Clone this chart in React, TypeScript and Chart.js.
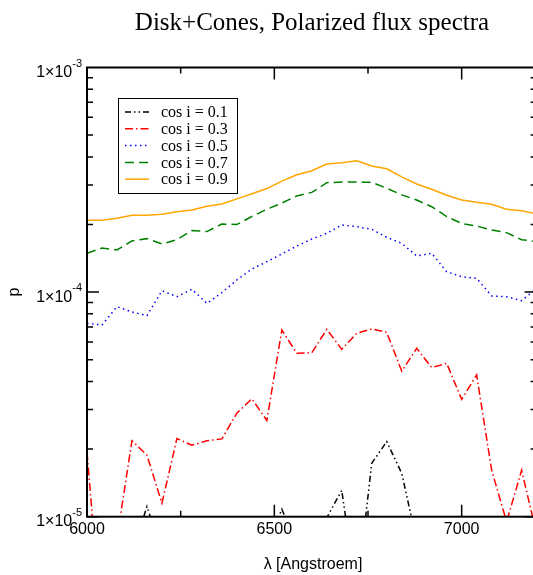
import React, { useEffect, useRef } from "react";
import { Chart, registerables } from "chart.js";

Chart.register(...registerables);

const wavelength = [6000, 6040, 6080, 6120, 6160, 6200, 6240, 6280, 6320, 6360, 6400, 6440, 6480, 6520, 6560, 6600, 6640, 6680, 6720, 6760, 6800, 6840, 6880, 6920, 6960, 7000, 7040, 7080, 7120, 7160, 7200];

const cos01 = [5e-6, 4e-6, 5e-6, 6.8e-6, 1.11e-5, 7e-6, 5e-6, 4e-6, 5e-6, 4e-6, 5e-6, 6e-6, 7.4e-6, 1.08e-5, 7.5e-6, 7e-6, 9.9e-6, 1.31e-5, 4.5e-6, 1.73e-5, 2.16e-5, 1.56e-5, 7.8e-6, 5e-6, 4e-6, 5e-6, 4e-6, 3e-6, 4e-6, 3e-6, 3e-6];
const cos03 = [1.94e-5, 3e-6, 8e-6, 2.18e-5, 1.88e-5, 1.148e-5, 2.23e-5, 2.08e-5, 2.18e-5, 2.22e-5, 2.89e-5, 3.35e-5, 2.68e-5, 6.78e-5, 5.34e-5, 5.37e-5, 6.83e-5, 5.56e-5, 6.56e-5, 6.85e-5, 6.62e-5, 4.45e-5, 5.62e-5, 4.61e-5, 4.82e-5, 3.33e-5, 4.28e-5, 1.61e-5, 9.5e-6, 1.61e-5, 8.4e-6];
const cos05 = [7.26e-5, 7.14e-5, 8.61e-5, 8.16e-5, 7.85e-5, 1.014e-4, 9.54e-5, 1.029e-4, 8.91e-5, 9.94e-5, 1.132e-4, 1.267e-4, 1.366e-4, 1.478e-4, 1.604e-4, 1.723e-4, 1.827e-4, 1.99e-4, 1.955e-4, 1.904e-4, 1.754e-4, 1.649e-4, 1.448e-4, 1.489e-4, 1.232e-4, 1.171e-4, 1.152e-4, 9.61e-5, 9.54e-5, 9.16e-5, 1.039e-4];
const cos07 = [1.49e-4, 1.57e-4, 1.54e-4, 1.69e-4, 1.73e-4, 1.64e-4, 1.71e-4, 1.88e-4, 1.86e-4, 2.01e-4, 2.0e-4, 2.17e-4, 2.34e-4, 2.49e-4, 2.68e-4, 2.78e-4, 3.07e-4, 3.09e-4, 3.09e-4, 3.08e-4, 2.9e-4, 2.71e-4, 2.57e-4, 2.4e-4, 2.17e-4, 2.02e-4, 1.97e-4, 1.89e-4, 1.84e-4, 1.71e-4, 1.68e-4];
const cos09 = [2.09e-4, 2.09e-4, 2.13e-4, 2.2e-4, 2.2e-4, 2.22e-4, 2.28e-4, 2.32e-4, 2.41e-4, 2.47e-4, 2.6e-4, 2.74e-4, 2.89e-4, 3.12e-4, 3.33e-4, 3.47e-4, 3.72e-4, 3.77e-4, 3.84e-4, 3.64e-4, 3.54e-4, 3.26e-4, 3.03e-4, 2.87e-4, 2.7e-4, 2.57e-4, 2.51e-4, 2.46e-4, 2.34e-4, 2.3e-4, 2.23e-4];

const seriesLabels = ["cos i = 0.1", "cos i = 0.3", "cos i = 0.5", "cos i = 0.7", "cos i = 0.9"];
const xTicks = [6000, 6500, 7000];
const yTickExponents = [-3, -4, -5];

const TITLE = "Disk+Cones, Polarized flux spectra";
const X_LABEL = "λ [Angstroem]";
const Y_LABEL = "p";

const SERIF = "'Liberation Serif', 'Times New Roman', serif";
const SANS = "'Liberation Sans', Arial, sans-serif";

const styles = [
  { color: "#000000", dash: [6, 3, 1.5, 3, 1.5, 3] },
  { color: "#ff0000", dash: [8, 3, 1.5, 3] },
  { color: "#0000ff", dash: [1.5, 3.5] },
  { color: "#008000", dash: [9, 5] },
  { color: "#ffa500", dash: [] as number[] },
];

const decorPlugin = {
  id: "decor",
  afterDraw(chart: any) {
    const { ctx, chartArea: a, scales } = chart;
    const xs = scales.x;
    const ys = scales.y;
    ctx.save();
    // frame
    ctx.strokeStyle = "#000";
    ctx.lineWidth = 2;
    ctx.setLineDash([]);
    ctx.strokeRect(a.left, a.top, a.right - a.left, a.bottom - a.top);
    ctx.lineWidth = 1.5;
    // x ticks
    for (let v = 6000; v <= 7200; v += 250) {
      const px = xs.getPixelForValue(v);
      const len = v % 500 === 0 ? 12 : 6;
      ctx.beginPath();
      ctx.moveTo(px, a.bottom);
      ctx.lineTo(px, a.bottom - len);
      ctx.moveTo(px, a.top);
      ctx.lineTo(px, a.top + len);
      ctx.stroke();
    }
    // y ticks
    for (let e = -5; e <= -4; e++) {
      for (let m = 1; m <= 9; m++) {
        const v = m * Math.pow(10, e);
        const py = ys.getPixelForValue(v);
        const len = m === 1 ? 12 : 6;
        ctx.beginPath();
        ctx.moveTo(a.left, py);
        ctx.lineTo(a.left + len, py);
        ctx.moveTo(a.right, py);
        ctx.lineTo(a.right - len, py);
        ctx.stroke();
      }
    }
    // x tick labels
    ctx.fillStyle = "#000";
    ctx.font = `16px ${SANS}`;
    ctx.textAlign = "center";
    ctx.textBaseline = "middle";
    xTicks.forEach((v) => {
      ctx.fillText(String(v), xs.getPixelForValue(v), a.bottom + 12.5);
    });
    // y tick labels
    ctx.textBaseline = "alphabetic";
    yTickExponents.forEach((e) => {
      const py = ys.getPixelForValue(Math.pow(10, e));
      const main = "1×10";
      const sup = String(e);
      ctx.font = `11px ${SANS}`;
      const w2 = ctx.measureText(sup).width;
      ctx.font = `16px ${SANS}`;
      const w1 = ctx.measureText(main).width;
      const right = a.left - 5;
      ctx.textAlign = "left";
      ctx.fillText(main, right - w2 - w1, py + 9.5);
      ctx.font = `11px ${SANS}`;
      ctx.fillText(sup, right - w2, py - 1);
    });
    // axis titles
    ctx.textBaseline = "middle";
    ctx.font = `16px ${SANS}`;
    ctx.textAlign = "center";
    ctx.fillText(X_LABEL, 313, 565);
    ctx.save();
    ctx.translate(15, ys.getPixelForValue(1e-4));
    ctx.rotate(-Math.PI / 2);
    ctx.fillText(Y_LABEL, 0, 0);
    ctx.restore();
    // title
    ctx.textBaseline = "alphabetic";
    ctx.font = `25px ${SERIF}`;
    ctx.fillText(TITLE, 312, 30);
    // legend
    const lx = 118, ly = 98, lw = 119, lh = 95;
    ctx.fillStyle = "#fff";
    ctx.fillRect(lx, ly, lw, lh);
    ctx.strokeStyle = "#000";
    ctx.lineWidth = 1;
    ctx.strokeRect(lx + 0.5, ly + 0.5, lw, lh);
    ctx.textBaseline = "middle";
    ctx.font = `16px ${SERIF}`;
    ctx.textAlign = "left";
    seriesLabels.forEach((lab, i) => {
      const y = 112 + i * 16.8;
      ctx.strokeStyle = styles[i].color;
      ctx.lineWidth = 1.5;
      ctx.setLineDash(styles[i].dash);
      ctx.beginPath();
      ctx.moveTo(125, y);
      ctx.lineTo(149, y);
      ctx.stroke();
      ctx.setLineDash([]);
      ctx.fillStyle = "#000";
      ctx.fillText(lab, 161, y + 1);
    });
    ctx.restore();
  },
};

export default function App() {
  const ref = useRef<HTMLCanvasElement | null>(null);
  useEffect(() => {
    if (!ref.current) return;
    const all = [cos01, cos03, cos05, cos07, cos09];
    const chart = new Chart(ref.current, {
      type: "line",
      data: {
        datasets: all.map((arr, i) => ({
          label: seriesLabels[i],
          data: wavelength.map((w, j) => ({ x: w, y: arr[j] })),
          borderColor: styles[i].color,
          borderWidth: 1.5,
          borderDash: styles[i].dash,
          pointRadius: 0,
          fill: false,
          tension: 0,
        })),
      },
      options: {
        responsive: false,
        animation: false,
        devicePixelRatio: 1,
        layout: { padding: { left: 87, top: 67.5, right: 8.4, bottom: 58.3 } },
        plugins: { legend: { display: false }, title: { display: false }, tooltip: { enabled: false } },
        scales: {
          x: { type: "linear", min: 6000, max: 7200, display: false },
          y: { type: "logarithmic", min: 1e-5, max: 1e-3, display: false },
        },
      },
      plugins: [decorPlugin],
    });
    return () => chart.destroy();
  }, []);
  return (
    <div style={{ position: "absolute", left: 0, top: 0, width: 533, height: 575, overflow: "hidden", background: "#fff" }}>
      <canvas ref={ref} width={545} height={575} style={{ width: 545, height: 575, display: "block" }} />
    </div>
  );
}
